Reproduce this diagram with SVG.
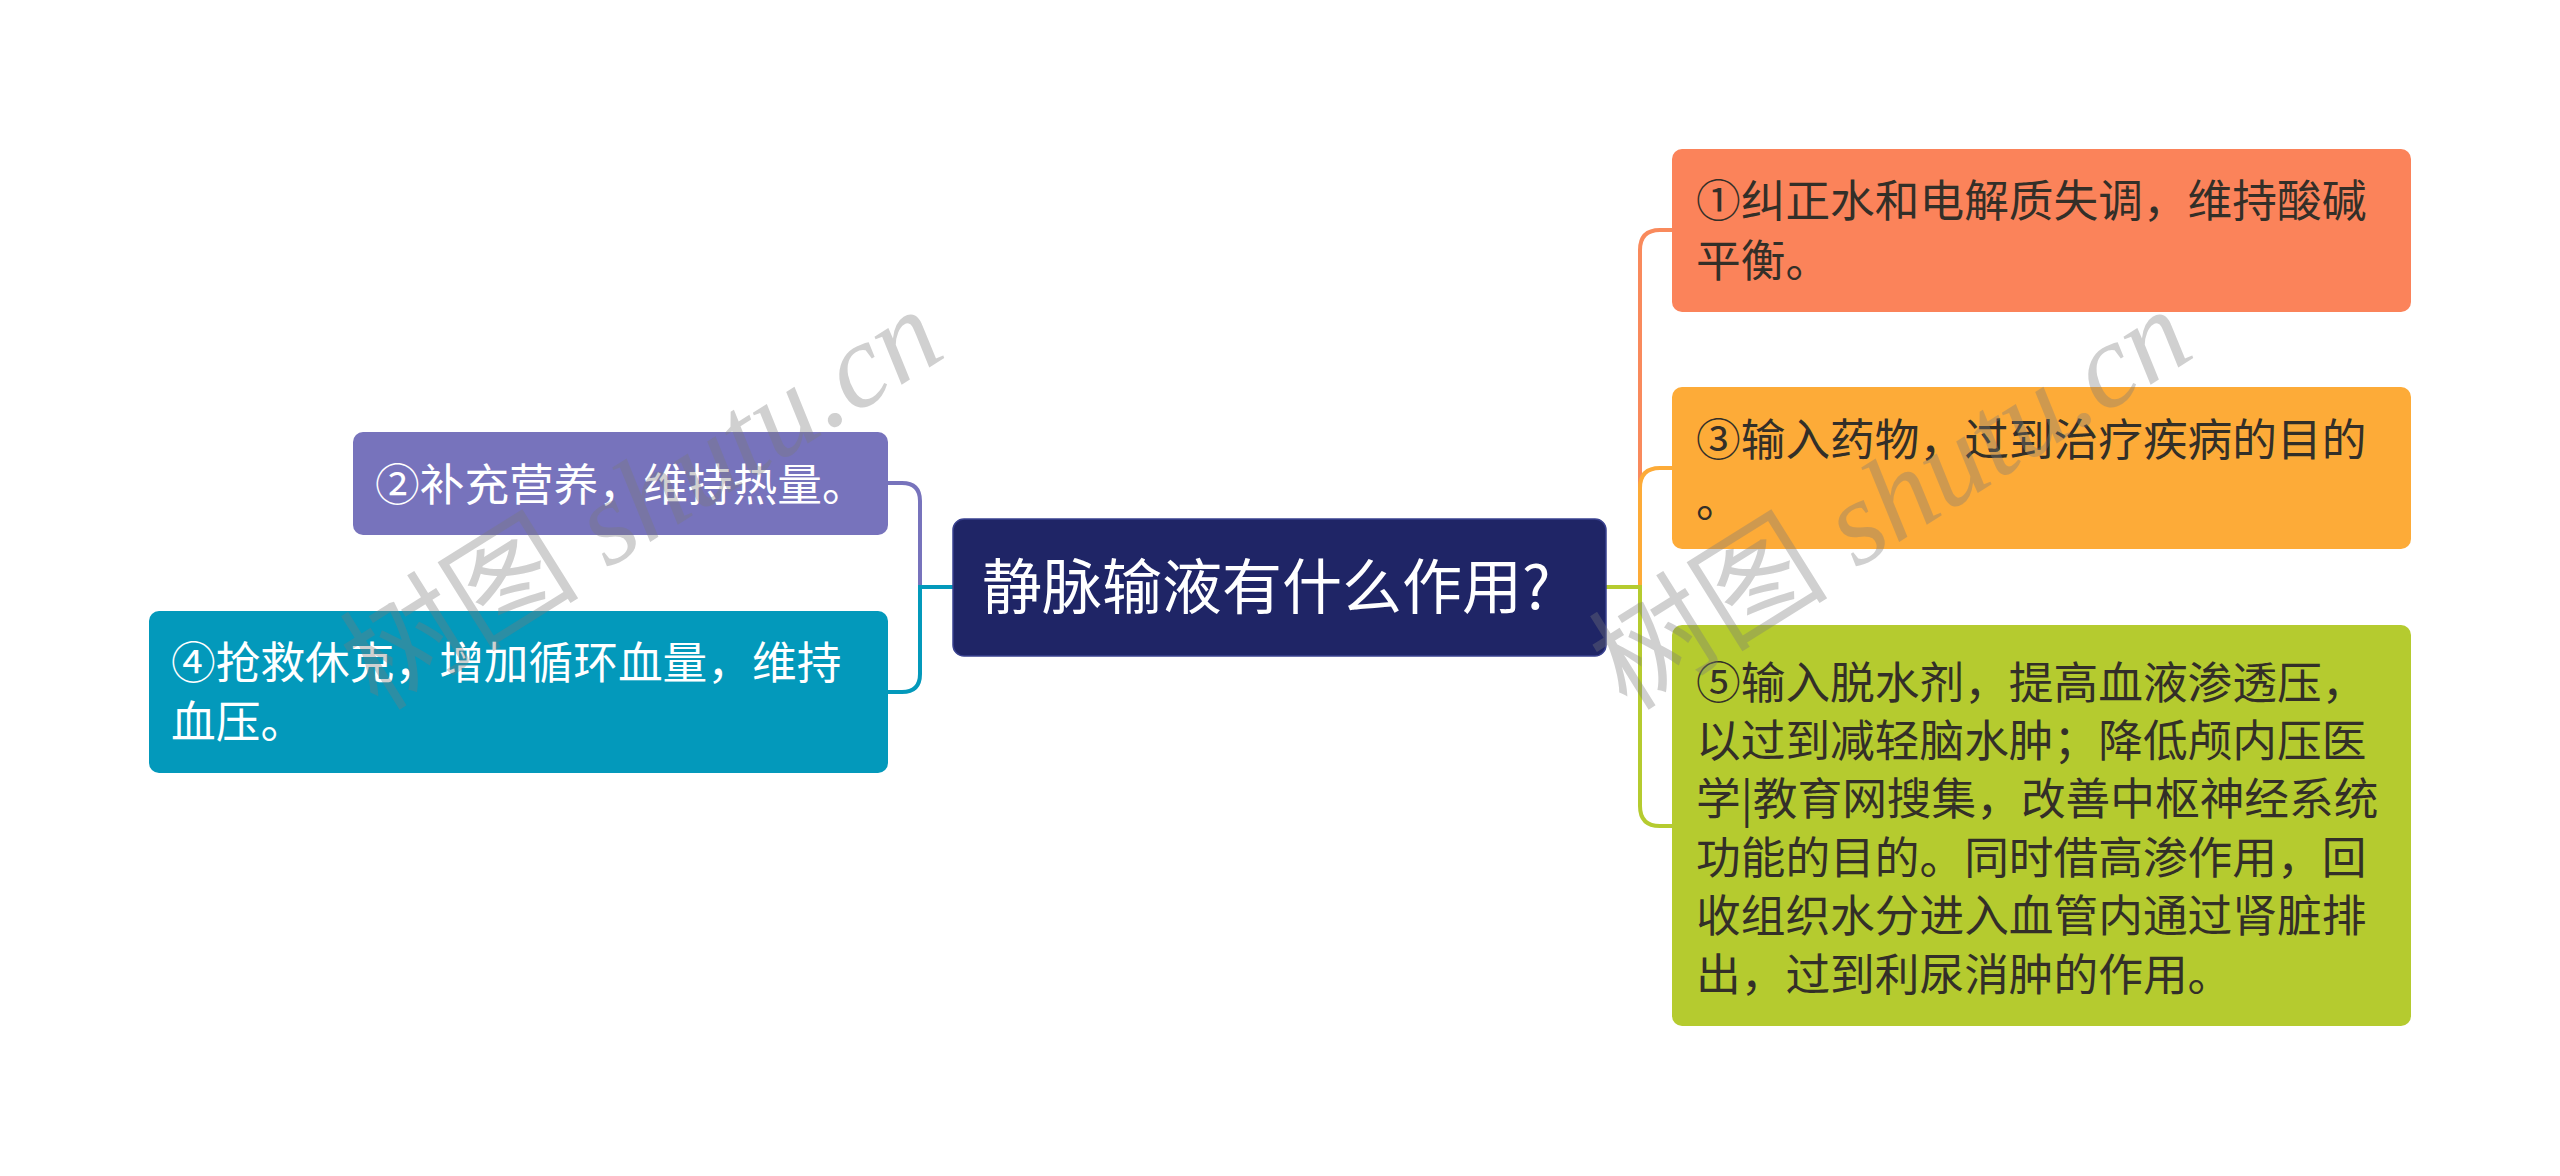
<svg xmlns="http://www.w3.org/2000/svg" width="2560" height="1176" viewBox="0 0 2560 1176">
<style>
.t{font-family:"Noto Sans CJK SC","Noto Sans",sans-serif;font-size:44.7px;}
.w{fill:#ffffff;}
.d{fill:#332f28;}
.c{fill:none;stroke-width:4;}
.wm{font-size:120px;fill:#7a7a7a;opacity:0.35;}
</style>
<rect width="2560" height="1176" fill="#ffffff"/>
<g id="connectors">
<path class="c" stroke="#7773bc" d="M953 587 H920 V501 Q920 483 902 483 H888"/>
<path class="c" stroke="#0399bb" d="M953 587 H920 V674 Q920 692 902 692 H888"/>
<path class="c" stroke="#f98a5c" d="M1606 587 H1640 V250 Q1640 230 1660 230 H1672"/>
<path class="c" stroke="#fdab38" d="M1606 587 H1640 V488 Q1640 468 1660 468 H1672"/>
<path class="c" stroke="#b5cb2f" d="M1606 587 H1640 V806 Q1640 826 1660 826 H1672"/>
</g>
<g id="center">
<rect x="953" y="519" width="653" height="137" rx="11" fill="#1f2566" stroke="#3a4290" stroke-width="1.5"/>
<text class="t w" x="982" y="609" style="font-size:60px">静脉输液有什么作用?</text>
</g>
<g id="node2">
<rect x="353" y="432" width="535" height="103" rx="10" fill="#7773bc"/>
<text class="t w" x="375" y="501">②补充营养，维持热量。</text>
</g>
<g id="node4">
<rect x="149" y="611" width="739" height="162" rx="10" fill="#0399bb"/>
<text class="t w" x="171" y="679">④抢救休克，增加循环血量，维持</text>
<text class="t w" x="171" y="738">血压。</text>
</g>
<g id="node1">
<rect x="1672" y="149" width="739" height="163" rx="10" fill="#fb835a"/>
<text class="t d" x="1696" y="217">①纠正水和电解质失调，维持酸碱</text>
<text class="t d" x="1696" y="277">平衡。</text>
</g>
<g id="node3">
<rect x="1672" y="387" width="739" height="162" rx="10" fill="#fdab38"/>
<text class="t d" x="1696" y="456">③输入药物，过到治疗疾病的目的</text>
<text class="t d" x="1696" y="517">。</text>
</g>
<g id="node5">
<rect x="1672" y="625" width="739" height="401" rx="10" fill="#b5cb2f"/>
<text class="t d" x="1696" y="699">⑤输入脱水剂，提高血液渗透压，</text>
<text class="t d" x="1696" y="757">以过到减轻脑水肿；降低颅内压医</text>
<text class="t d" x="1696" y="815">学|教育网搜集，改善中枢神经系统</text>
<text class="t d" x="1696" y="874">功能的目的。同时借高渗作用，回</text>
<text class="t d" x="1696" y="932">收组织水分进入血管内通过肾脏排</text>
<text class="t d" x="1696" y="991">出，过到利尿消肿的作用。</text>
</g>
<g id="watermark">
<text class="wm" transform="translate(378 712) rotate(-32)"><tspan style="font-family:'Noto Sans CJK SC',sans-serif">树图</tspan><tspan style="font-family:'Liberation Serif',serif;font-style:italic"> shutu.cn</tspan></text>
<text class="wm" transform="translate(1627 712) rotate(-32)"><tspan style="font-family:'Noto Sans CJK SC',sans-serif">树图</tspan><tspan style="font-family:'Liberation Serif',serif;font-style:italic"> shutu.cn</tspan></text>
</g>
</svg>
